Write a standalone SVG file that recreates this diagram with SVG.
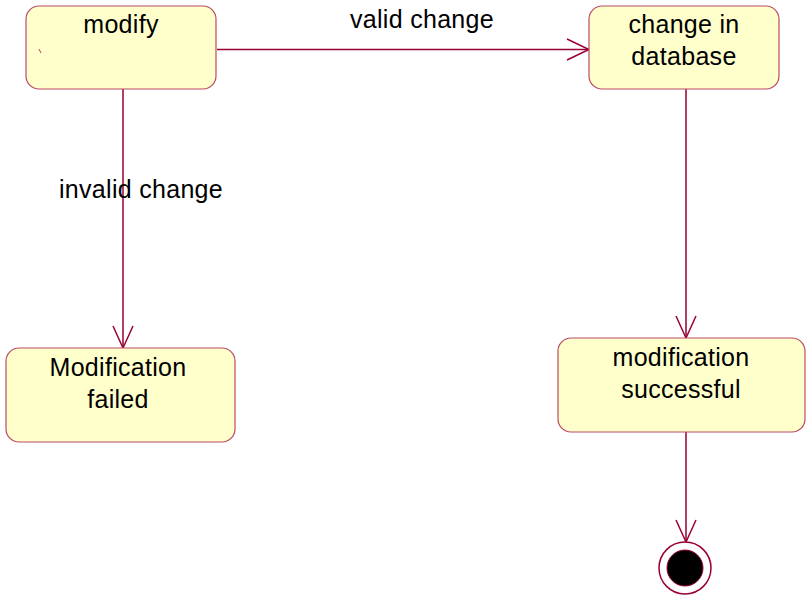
<svg xmlns="http://www.w3.org/2000/svg" width="806" height="597" viewBox="0 0 806 597">
<style>
.node rect{fill:#FFFFCC;stroke:#BC4A66;stroke-width:1.2}
.lbl{font-family:"Liberation Sans",Arial,sans-serif;font-size:25px;letter-spacing:0.3px;fill:#000;text-anchor:middle}
.edge{stroke:#990033;stroke-width:1.5;fill:none}
.head{stroke:#990033;stroke-width:1.5;fill:none}
</style>
<rect width="806" height="597" fill="#fff"/>
<g id="connectors">
<line class="edge" x1="217" y1="49.5" x2="589" y2="49.5"/>
<polyline class="head" points="567,39 589,49.5 567,60"/>
<line class="edge" x1="123" y1="89" x2="123" y2="348"/>
<polyline class="head" points="113,326 123,348 133,326"/>
<line class="edge" x1="686" y1="89" x2="686" y2="338"/>
<polyline class="head" points="676,316 686,338 696,316"/>
<line class="edge" x1="686" y1="432" x2="686" y2="542"/>
<polyline class="head" points="676,520 686,542 696,520"/>
<text class="lbl" x="422" y="28">valid change</text>
<text class="lbl" x="141" y="198">invalid change</text>
</g>
<g id="modify" class="node">
<rect x="26" y="6" width="190" height="83" rx="13"/>
<text class="lbl" x="121" y="33">modify</text>
<line x1="39" y1="49" x2="41" y2="53" stroke="#B8405E" stroke-width="1"/>
</g>
<g id="change" class="node">
<rect x="589" y="6" width="190" height="83" rx="13"/>
<text class="lbl" x="684" y="33">change in</text>
<text class="lbl" x="684" y="65">database</text>
</g>
<g id="failed" class="node">
<rect x="6" y="348" width="229" height="94" rx="13"/>
<text class="lbl" x="118" y="376">Modification</text>
<text class="lbl" x="118" y="408">failed</text>
</g>
<g id="successful" class="node">
<rect x="558" y="338" width="247" height="94" rx="13"/>
<text class="lbl" x="681" y="366">modification</text>
<text class="lbl" x="681" y="398">successful</text>
</g>
<g id="final">
<circle cx="685" cy="568" r="26" fill="#fff" stroke="#990033" stroke-width="1.5"/>
<circle cx="685" cy="568" r="18" fill="#000" stroke="#990033" stroke-width="1"/>
</g>
</svg>
